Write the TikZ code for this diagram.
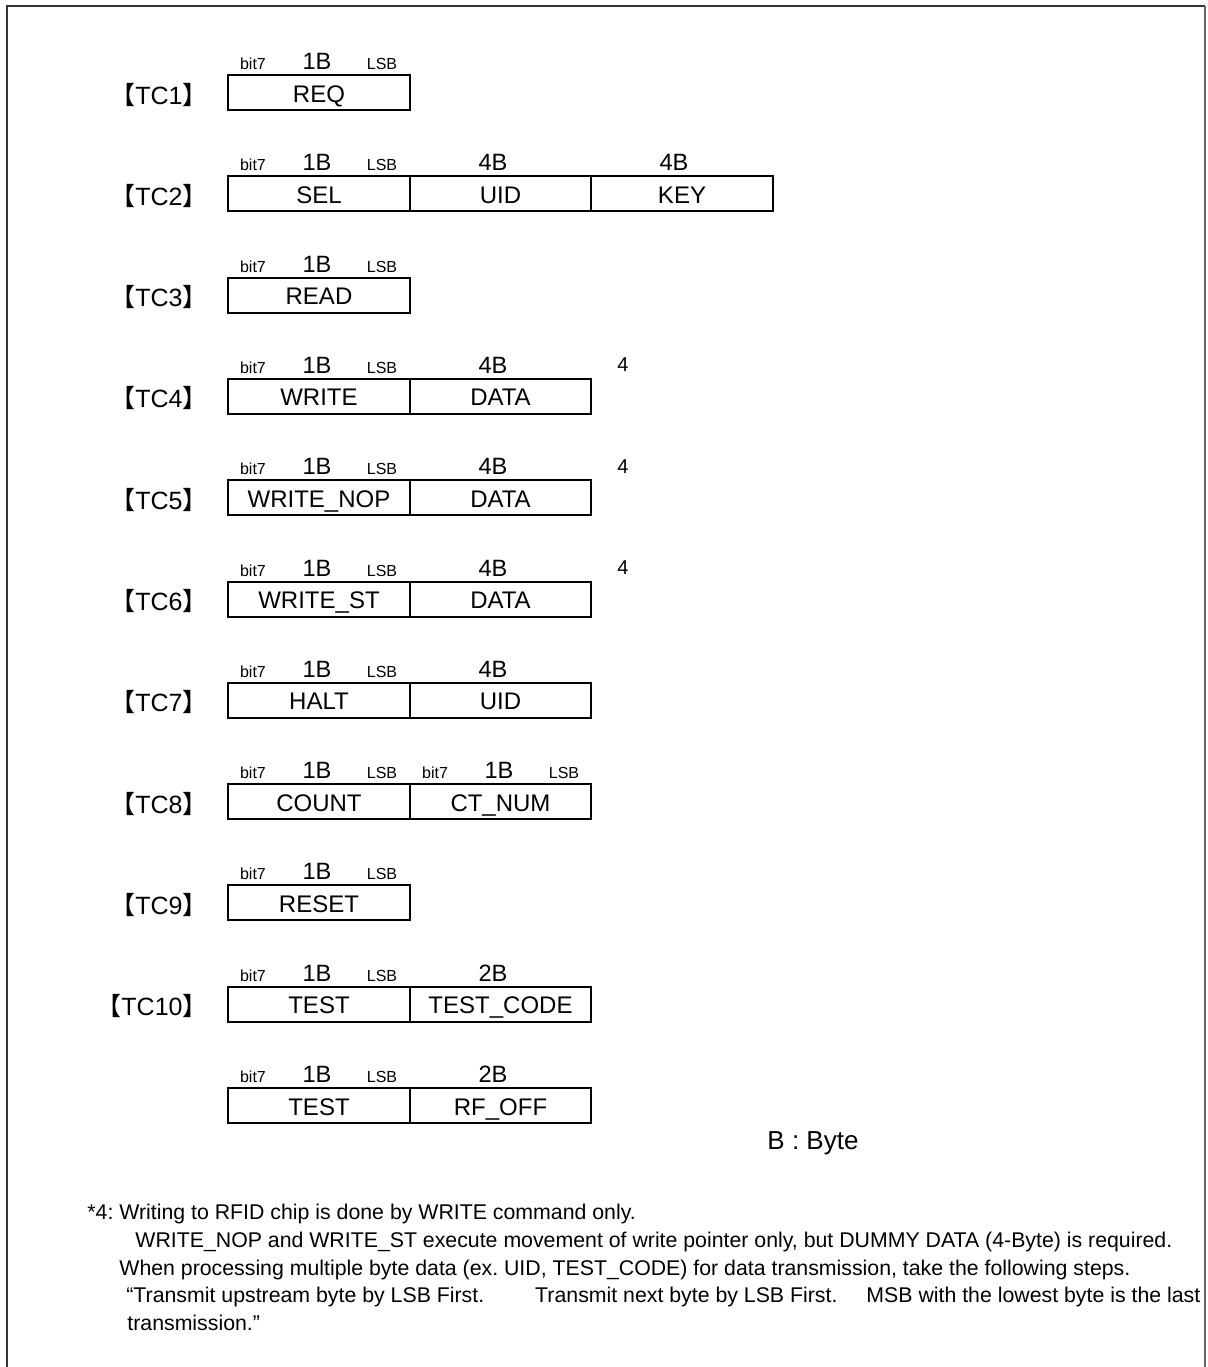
\documentclass[tikz,border=0pt]{standalone}
\usepackage{fontspec}
\setmainfont{Liberation Sans}
\newfontfamily\cjkfont{Noto Sans CJK JP}
\frenchspacing
\newcommand\lbr{{\cjkfont 【}}
\newcommand\rbr{{\cjkfont 】}}
% header of a 1-byte field: prefix, column left, row top
\newcommand\hdrone[3]{%
  \node[hdrbit]  (#1-bit) at ({#2+25},{#3-5.5}) {bit7};
  \node[hdrsize] (#1-sz)  at ({#2+89},{#3-5.5}) {1B};
  \node[hdrbit]  (#1-lsb) at ({#2+154},{#3-5.5}) {LSB};}
% header of a multi-byte field: name, column left, row top, text
\newcommand\hdrn[4]{\node[hdrsize] (#1) at ({#2+83},{#3-5.5}) {#4};}
\begin{document}
\begin{tikzpicture}[x=0.5pt,y=-0.5pt,
  fieldbox/.style={draw=black,line width=1pt,inner sep=0pt,outer sep=0pt,
    minimum height=17.5pt,anchor=north west,
    font=\fontsize{12}{14}\selectfont,text height=12pt,text depth=2.5pt},
  wA/.style={minimum width=91pt},
  wB/.style={minimum width=90.5pt},
  hdrbit/.style={font=\fontsize{8}{9}\selectfont,anchor=base,inner sep=0pt},
  hdrsize/.style={font=\fontsize{11.8}{13}\selectfont,anchor=base,inner sep=0pt},
  tclabel/.style={font=\fontsize{12.5}{14}\selectfont,anchor=base east,inner sep=0pt},
  notemark/.style={font=\fontsize{10}{11}\selectfont,anchor=base,inner sep=0pt},
  foot/.style={font=\fontsize{10.65}{12}\selectfont,anchor=base west,inner sep=0pt},
  frameline/.style={line width=1.4pt,color=black!80}
]
\useasboundingbox (0,0) rectangle (1207,1367);
% frame
\draw[frameline] (7,1367) -- (7,6) -- (1205,6);
\draw[line width=0.9pt,color=black!60] (1205,6) -- (1205,1367);

% TC1
\def\t{75}
\node[tclabel] (tc1) at (208,\t+29) {\lbr TC1\rbr};
\hdrone{h1}{228}{\t}
\node[fieldbox,wA] (tc1-cmd) at (228,\t) {REQ};

% TC2
\def\t{176.3}
\node[tclabel] (tc2) at (208,\t+29) {\lbr TC2\rbr};
\hdrone{h2}{228}{\t}
\hdrn{h2-uid}{410}{\t}{4B}
\hdrn{h2-key}{591}{\t}{4B}
\node[fieldbox,wA] (tc2-cmd) at (228,\t) {SEL};
\node[fieldbox,wB] (tc2-uid) at (410,\t) {UID};
\node[fieldbox,wA] (tc2-key) at (591,\t) {KEY};

% TC3
\def\t{277.6}
\node[tclabel] (tc3) at (208,\t+29) {\lbr TC3\rbr};
\hdrone{h3}{228}{\t}
\node[fieldbox,wA] (tc3-cmd) at (228,\t) {READ};

% TC4
\def\t{378.9}
\node[tclabel] (tc4) at (208,\t+29) {\lbr TC4\rbr};
\hdrone{h4}{228}{\t}
\hdrn{h4-data}{410}{\t}{4B}
\node[notemark] (n4) at (623,\t-7) {4};
\node[fieldbox,wA] (tc4-cmd) at (228,\t) {WRITE};
\node[fieldbox,wB] (tc4-data) at (410,\t) {DATA};

% TC5
\def\t{480.2}
\node[tclabel] (tc5) at (208,\t+29) {\lbr TC5\rbr};
\hdrone{h5}{228}{\t}
\hdrn{h5-data}{410}{\t}{4B}
\node[notemark] (n5) at (623,\t-7) {4};
\node[fieldbox,wA] (tc5-cmd) at (228,\t) {WRITE\_NOP};
\node[fieldbox,wB] (tc5-data) at (410,\t) {DATA};

% TC6
\def\t{581.5}
\node[tclabel] (tc6) at (208,\t+29) {\lbr TC6\rbr};
\hdrone{h6}{228}{\t}
\hdrn{h6-data}{410}{\t}{4B}
\node[notemark] (n6) at (623,\t-7) {4};
\node[fieldbox,wA] (tc6-cmd) at (228,\t) {WRITE\_ST};
\node[fieldbox,wB] (tc6-data) at (410,\t) {DATA};

% TC7
\def\t{682.8}
\node[tclabel] (tc7) at (208,\t+29) {\lbr TC7\rbr};
\hdrone{h7}{228}{\t}
\hdrn{h7-uid}{410}{\t}{4B}
\node[fieldbox,wA] (tc7-cmd) at (228,\t) {HALT};
\node[fieldbox,wB] (tc7-uid) at (410,\t) {UID};

% TC8
\def\t{784.1}
\node[tclabel] (tc8) at (208,\t+29) {\lbr TC8\rbr};
\hdrone{h8}{228}{\t}
\hdrone{h8b}{410}{\t}
\node[fieldbox,wA] (tc8-cmd) at (228,\t) {COUNT};
\node[fieldbox,wB] (tc8-num) at (410,\t) {CT\_NUM};

% TC9
\def\t{885.4}
\node[tclabel] (tc9) at (208,\t+29) {\lbr TC9\rbr};
\hdrone{h9}{228}{\t}
\node[fieldbox,wA] (tc9-cmd) at (228,\t) {RESET};

% TC10
\def\t{986.7}
\node[tclabel] (tc10) at (208,\t+29) {\lbr TC10\rbr};
\hdrone{h10}{228}{\t}
\hdrn{h10-code}{410}{\t}{2B}
\node[fieldbox,wA] (tc10-cmd) at (228,\t) {TEST};
\node[fieldbox,wB] (tc10-code) at (410,\t) {TEST\_CODE};

% TC10 (RF_OFF)
\def\t{1088}
\hdrone{h11}{228}{\t}
\hdrn{h11-code}{410}{\t}{2B}
\node[fieldbox,wA] (tc11-cmd) at (228,\t) {TEST};
\node[fieldbox,wB] (tc11-code) at (410,\t) {RF\_OFF};

% legend
\node[font=\fontsize{13}{15}\selectfont,anchor=base,inner sep=0pt] (legend) at (813,1149) {B : Byte};

% footnote
\node[foot] (f1) at (87,1219) {*4: Writing to RFID chip is done by WRITE command only.};
\node[foot] (f2) at (135,1247) {WRITE\_NOP and WRITE\_ST execute movement of write pointer only, but DUMMY DATA (4-Byte) is required.};
\node[foot] (f3) at (119,1275) {When processing multiple byte data (ex. UID, TEST\_CODE) for data transmission, take the following steps.};
\node[foot] (f4) at (126,1302.5) {“Transmit upstream byte by LSB First.\hspace{25.5pt}Transmit next byte by LSB First.\hspace{14.5pt}MSB with the lowest byte is the last};
\node[foot] (f5) at (127,1330) {transmission.”};
\end{tikzpicture}
\end{document}
